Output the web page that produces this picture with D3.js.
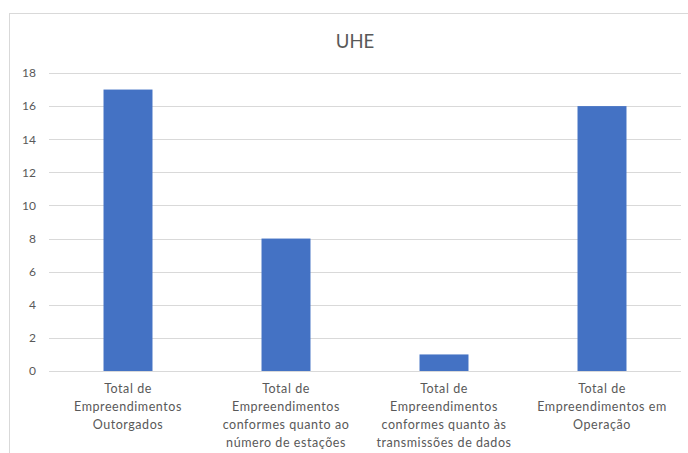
<!DOCTYPE html>
<html>
<head>
<meta charset="utf-8">
<script src="https://cdn.jsdelivr.net/npm/d3@7"></script>
<style>
  body { margin: 0; background: #fff; }
  svg { display: block; font-family: Lato, "Open Sans", sans-serif; }
</style>
</head>
<body>
<svg class="chart"></svg>
<script>
// DATA ////////////////////////////////////////
const title = "UHE";
const categories = [
  "Total de\nEmpreendimentos\nOutorgados",
  "Total de\nEmpreendimentos\nconformes quanto ao\nnúmero de estações",
  "Total de\nEmpreendimentos\nconformes quanto às\ntransmissões de dados",
  "Total de\nEmpreendimentos em\nOperação"
];
const values = [17, 8, 1, 16];
const yTicks = [0, 2, 4, 6, 8, 10, 12, 14, 16, 18];

// DEFINITIONS /////////////////////////////////
const W = 688, H = 453;
const margin = { top: 73, bottom: 82, right: 7, left: 49 };
const width = W - margin.left - margin.right;
const height = H - margin.top - margin.bottom;
const textColor = "#595959";

const svg = d3.select(".chart").attr("width", W).attr("height", H);

// chart frame
svg.append("rect")
  .attr("x", 9.5).attr("y", 13.5)
  .attr("width", 700).attr("height", 460)
  .attr("fill", "#fff")
  .attr("stroke", "#d9d9d9");

svg.append("text")
  .attr("x", 355).attr("y", 48)
  .attr("text-anchor", "middle")
  .attr("fill", textColor)
  .style("font-size", "18.5px")
  .text(title);

const chartG = svg.append("g")
  .attr("transform", `translate(${margin.left}, ${margin.top})`);

const x = d3.scaleBand()
  .domain(categories)
  .range([0, width])
  .paddingInner(0.69)
  .paddingOuter(0.345);

const y = d3.scaleLinear().domain([0, 18]).range([height, 0]);

// gridlines
chartG.selectAll(".grid")
  .data(yTicks)
  .enter()
  .append("line")
  .attr("class", "grid")
  .attr("x1", 0).attr("x2", width)
  .attr("y1", (d) => Math.round(y(d)) + 0.5)
  .attr("y2", (d) => Math.round(y(d)) + 0.5)
  .attr("stroke", "#d9d9d9")
  .attr("stroke-width", 1);

// y axis labels
const yAxis = chartG.append("g")
  .call(d3.axisLeft(y).tickValues(yTicks).tickSize(0).tickPadding(13));
yAxis.select(".domain").remove();
yAxis.selectAll("text")
  .attr("fill", textColor)
  .style("font-size", "12px")
  .style("font-family", "Lato, sans-serif");

// bars
chartG.selectAll(".bar")
  .data(values)
  .enter()
  .append("rect")
  .attr("class", "bar")
  .attr("x", (d, i) => x(categories[i]))
  .attr("width", x.bandwidth())
  .attr("y", (d) => y(d))
  .attr("height", (d) => y(0) - y(d))
  .attr("fill", "#4472c4");

// x category labels
const labelG = chartG.selectAll(".xlabel")
  .data(categories)
  .enter()
  .append("text")
  .attr("class", "xlabel")
  .attr("text-anchor", "middle")
  .attr("fill", textColor)
  .style("font-size", "12.5px")
  .style("letter-spacing", "0.55px")
  .attr("transform", (d) => `translate(${x(d) + x.bandwidth() / 2}, ${height + 22})`);

labelG.selectAll("tspan")
  .data((d) => d.split("\n"))
  .enter()
  .append("tspan")
  .attr("x", 0)
  .attr("y", (d, i) => i * 18)
  .text((d) => d);
</script>
</body>
</html>
